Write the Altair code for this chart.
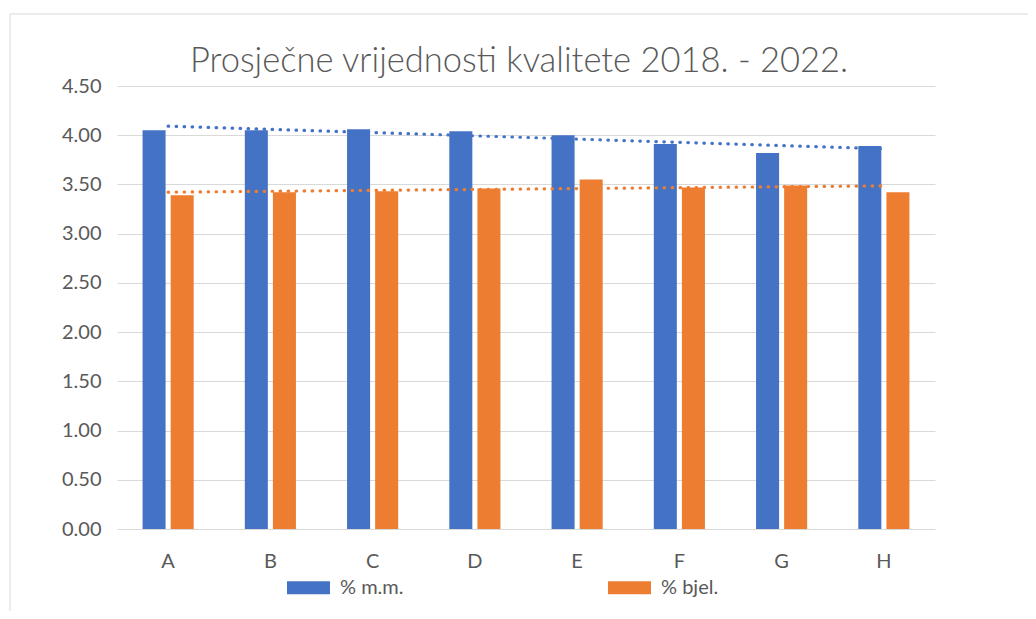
import altair as alt
import pandas as pd

categories = ["A", "B", "C", "D", "E", "F", "G", "H"]
mm_values = [4.05, 4.05, 4.06, 4.04, 4.00, 3.91, 3.82, 3.89]
bjel_values = [3.39, 3.42, 3.43, 3.46, 3.55, 3.47, 3.49, 3.42]
series_names = ["% m.m.", "% bjel."]
colors = ["#4472C4", "#ED7D31"]
y_ticks = [0.0, 0.5, 1.0, 1.5, 2.0, 2.5, 3.0, 3.5, 4.0, 4.5]
title_text = "Prosječne vrijednosti kvalitete 2018. - 2022."

rows = []
for i, c in enumerate(categories):
    rows.append({"cat": c, "idx": i, "series": series_names[0], "value": mm_values[i]})
    rows.append({"cat": c, "idx": i, "series": series_names[1], "value": bjel_values[i]})
df = pd.DataFrame(rows)

FONT = "Lato"
TXT = "#595959"
W, H = 818, 443

yscale = alt.Scale(domain=[0, 4.5], nice=False)

border = alt.Chart(alt.Data(values=[{}])).mark_rect(
    fill=None, stroke="#d9d9d9", strokeWidth=1
).encode(
    x=alt.value(-107), x2=alt.value(W + 200), y=alt.value(-72), y2=alt.value(H + 200)
)

title = alt.Chart(alt.Data(values=[{"t": title_text}])).mark_text(
    font=FONT, fontSize=34.5, fontWeight=300, color=TXT, align="center", baseline="alphabetic"
).encode(
    text="t:N", x=alt.value(W / 2 - 7), y=alt.value(-14)
)

bars = alt.Chart(df).mark_bar().encode(
    x=alt.X("cat:N", sort=categories,
            scale=alt.Scale(paddingInner=0.5, paddingOuter=0.25),
            axis=alt.Axis(title=None, labelAngle=0, domain=False, ticks=False,
                          labelFont=FONT, labelFontSize=20, labelColor=TXT,
                          labelPadding=22, grid=False)),
    xOffset=alt.XOffset("series:N", sort=series_names,
                        scale=alt.Scale(paddingInner=0.18)),
    y=alt.Y("value:Q", scale=yscale,
            axis=alt.Axis(title=None, values=y_ticks, format=".2f", domain=False,
                          ticks=False, labelFont=FONT, labelFontSize=20,
                          labelColor=TXT, labelPadding=16, grid=True,
                          gridColor="#d9d9d9", gridWidth=1)),
    color=alt.Color("series:N", sort=series_names,
                    scale=alt.Scale(domain=series_names, range=colors),
                    legend=alt.Legend(title=None, orient="none", direction="horizontal",
                                      legendX=170, legendY=480,
                                      symbolType="M-1,-0.3H1V0.3H-1Z", symbolSize=1849,
                                      symbolStrokeWidth=0, symbolOpacity=1,
                                      labelFont=FONT, labelFontSize=20, labelColor=TXT,
                                      labelOffset=10, columnPadding=204)),
)

trend = alt.Chart(df).transform_regression(
    "idx", "value", groupby=["series"]
).mark_line(strokeDash=[0.5, 7.5], strokeCap="round", strokeWidth=3.2).encode(
    x=alt.X("idx:Q", scale=alt.Scale(domain=[-0.5, 7.5], nice=False, zero=False), axis=None),
    y=alt.Y("value:Q", scale=yscale),
    stroke=alt.Stroke("series:N", scale=alt.Scale(domain=series_names, range=colors), legend=None),
)

chart = alt.layer(border, title, bars, trend).resolve_scale(x="independent").properties(
    width=W, height=H,
    autosize=alt.AutoSizeParams(type="none"),
    padding={"left": 109, "top": 78, "right": 93, "bottom": 82},
).configure_view(stroke=None)

chart.save("out.html", embed_options={"renderer": "svg", "actions": False})
